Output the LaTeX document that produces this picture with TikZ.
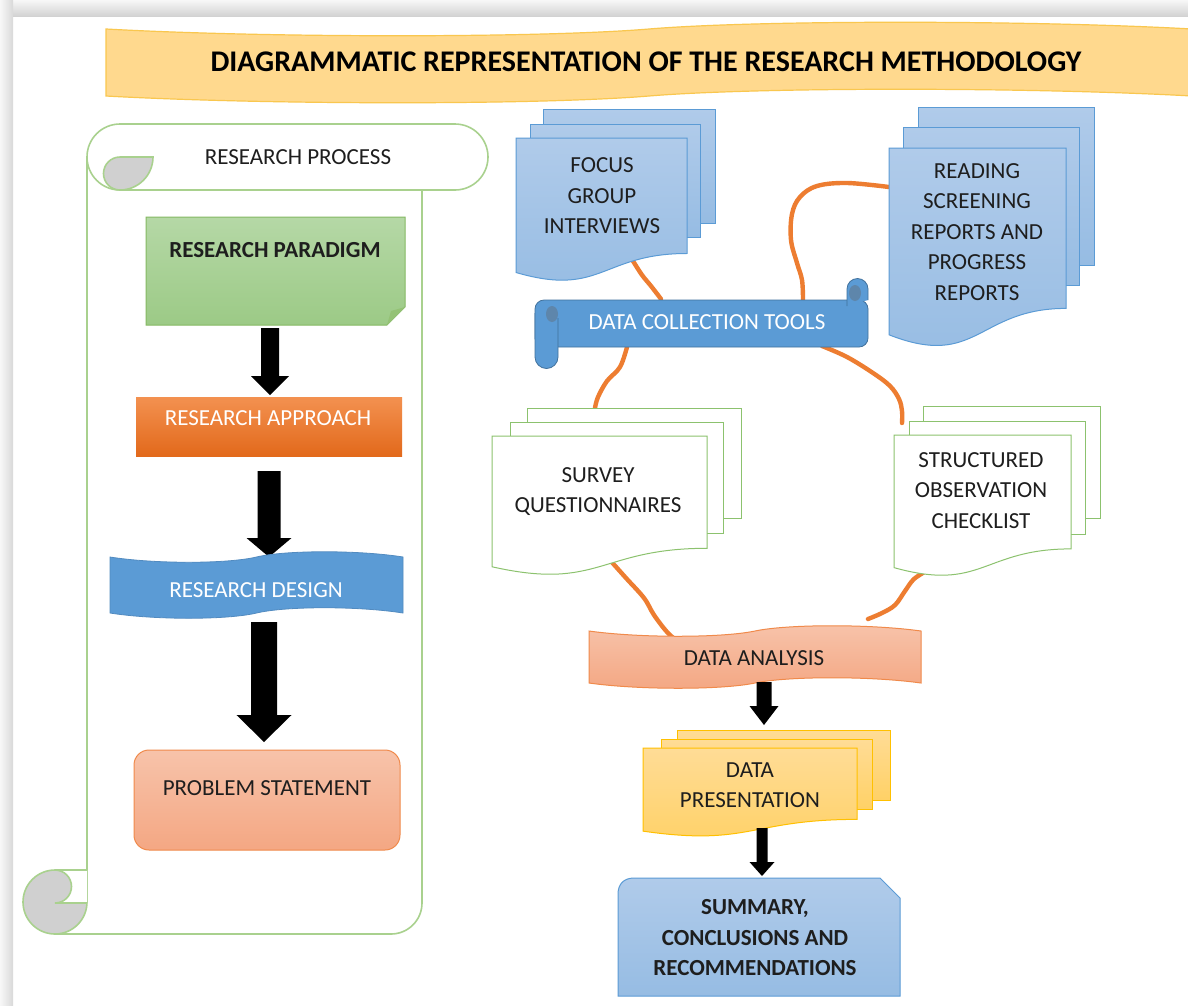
\documentclass[tikz,border=0pt]{standalone}
\usepackage{fontspec}
\setmainfont{Carlito}

\definecolor{scrollgreen}{HTML}{A9D18E}
\definecolor{leafdark}{HTML}{70AD47}
\definecolor{sheetgreen}{HTML}{8CC26E}
\definecolor{paratop}{HTML}{B5D8A6}
\definecolor{parabot}{HTML}{9CCA86}
\definecolor{apptop}{HTML}{F39150}
\definecolor{appbot}{HTML}{E2691B}
\definecolor{msblue}{HTML}{5B9BD5}
\definecolor{deepblue}{HTML}{41719C}
\definecolor{doctop}{HTML}{B0CBEA}
\definecolor{docbot}{HTML}{96BCE3}
\definecolor{salmtop}{HTML}{F7C3AA}
\definecolor{salmbot}{HTML}{F4A783}
\definecolor{salmedge}{HTML}{F08A4B}
\definecolor{wire}{HTML}{ED7D31}
\definecolor{goldtop}{HTML}{FFDC96}
\definecolor{goldbot}{HTML}{FFD166}
\definecolor{goldedge}{HTML}{FFC000}
\definecolor{bannerfill}{HTML}{FFD98E}
\definecolor{banneredge}{HTML}{F9C74F}
\definecolor{curlgray}{HTML}{D0D0D0}
\definecolor{ink}{HTML}{1E1E1E}

\tikzset{
  lbl/.style={font=\fontsize{23}{30.5}\selectfont, align=center, text=ink, inner sep=0pt},
  boldlbl/.style={lbl, font=\fontsize{23}{30.5}\selectfont\bfseries},
  whitelbl/.style={lbl, text=white},
  wirecurve/.style={draw=wire, line width=4.4pt, line cap=round, line join=round},
  scrollline/.style={draw=scrollgreen, line width=1.6pt},
  bluesheet/.style={top color=doctop, bottom color=docbot, draw=msblue, line width=1pt},
  greensheet/.style={fill=white, draw=sheetgreen, line width=1pt},
  goldsheet/.style={top color=goldtop, bottom color=goldbot, draw=goldedge, line width=1pt},
}

% wave band: style, x1, x2, top, bottom, amplitude
\newcommand{\wavepath}[6]{%
  \pgfmathsetmacro{\wvW}{#3-#2}%
  \pgfmathsetmacro{\wvM}{(#2+#3)/2}%
  \pgfmathsetmacro{\wvA}{#2+0.15*\wvW}%
  \pgfmathsetmacro{\wvB}{\wvM-0.1*\wvW}%
  \pgfmathsetmacro{\wvC}{\wvM+0.1*\wvW}%
  \pgfmathsetmacro{\wvD}{#3-0.15*\wvW}%
  \path[#1] (#2,#4) .. controls (\wvA,#4+#6) and (\wvB,#4+#6) .. (\wvM,#4)
     .. controls (\wvC,#4-#6) and (\wvD,#4-#6) .. (#3,#4) -- (#3,#5)
     .. controls (\wvD,#5-#6) and (\wvC,#5-#6) .. (\wvM,#5)
     .. controls (\wvB,#5+#6) and (\wvA,#5+#6) .. (#2,#5) -- cycle;}

% document sheet with wavy foot: style, x1, y1, x2, height
\newcommand{\docpage}[5]{%
  \pgfmathsetmacro{\dpR}{#3+0.802*#5}%
  \pgfmathsetmacro{\dpL}{#3+0.934*#5}%
  \pgfmathsetmacro{\dpC}{#3+1.1075*#5}%
  \pgfmathsetmacro{\dpM}{(#2+#4)/2}%
  \path[#1] (#2,#3) -- (#4,#3) -- (#4,\dpR) .. controls (\dpM,\dpR) and (\dpM,\dpC) .. (#2,\dpL) -- cycle;}

% solid down arrow: x centre, top, half shaft, half head, head start, tip
\newcommand{\blockarrow}[6]{%
  \fill[black] (#1-#3,#2) -- (#1+#3,#2) -- (#1+#3,#5) -- (#1+#4,#5) -- (#1,#6)
    -- (#1-#4,#5) -- (#1-#3,#5) -- cycle;}

\begin{document}
\begin{tikzpicture}[x=1pt,y=-1pt]
\useasboundingbox (0,0) rectangle (1188,1005);

% page and its shadow
\fill[white] (0,0) rectangle (1188,1005);
\fill[top color=gray!6, bottom color=gray!35] (0,0) rectangle (1188,16);
\fill[left color=gray!6, right color=gray!30] (0,0) rectangle (13,1005);

% title banner
\wavepath{fill=bannerfill, draw=banneredge, line width=1.2pt}{106}{1192}{29}{96}{9}
\node[font=\fontsize{30}{32}\selectfont\bfseries, text=black, inner sep=0pt] (title) at (646,62)
  {DIAGRAMMATIC REPRESENTATION OF THE RESEARCH METHODOLOGY};

% ---------- research process scroll ----------
\draw[scrollline] (87,157) -- (87,903);
\draw[scrollline] (422,190) -- (422,903) arc(0:90:31) -- (55,934);
\draw[scrollline, fill=white] (120,124) -- (455,124) arc(-90:90:33) -- (120,190) arc(90:270:33) -- cycle;
\draw[scrollline, fill=curlgray] (153,157) arc(0:90:33) arc(90:270:16.5) -- cycle;
\draw[scrollline, fill=curlgray] (55,902) circle (32);
\fill[white] (55,870) -- (87,870) -- (87,903) -- (55,903) arc(90:-90:16.5) -- cycle;
\draw[scrollline] (87,870) -- (55,870) arc(-90:90:16.5) -- (87,903);
\node[lbl] (process) at (298,157) {RESEARCH PROCESS};

% research paradigm (note with folded corner)
\path[top color=paratop, bottom color=parabot, draw=leafdark!85, line width=1pt]
  (146,217) -- (405,217) -- (405,307) -- (387,325) -- (146,325) -- cycle;
\fill[leafdark!75] (405,307) -- (391,311) -- (387,325) -- cycle;
\node[boldlbl] (paradigm) at (275,250) {RESEARCH PARADIGM};

\blockarrow{270}{328}{9}{19}{376}{395}

% research approach
\fill[top color=apptop, bottom color=appbot] (136,397) rectangle (402,456);
\node[whitelbl] (approach) at (268,418) {RESEARCH APPROACH};

\blockarrow{269}{471}{11.5}{22.5}{538}{557}

% research design
\wavepath{fill=msblue, draw=msblue!90!black, line width=0.8pt}{110}{403}{557}{613}{7}
\node[whitelbl] (design) at (256,590) {RESEARCH DESIGN};

\blockarrow{264}{622}{13}{27.5}{715}{742}

% problem statement
\path[top color=salmtop, bottom color=salmbot, draw=salmedge, line width=1pt, rounded corners=15]
  (134,750) rectangle (400,850);
\node[lbl] (problem) at (267,788) {PROBLEM STATEMENT};

% ---------- data tools ----------
% wire ends
\coordinate (fgi-out) at (633,261);
\coordinate (dct-nw) at (661,299);
\coordinate (rsr-out) at (889,187);
\coordinate (dct-ne) at (803,300);
\coordinate (dct-sw) at (627,347);
\coordinate (sq-in) at (595,408);
\coordinate (dct-se) at (822,346);
\coordinate (soc-in) at (902,423);
\coordinate (sq-out) at (609,559);
\coordinate (da-nw) at (676,640);
\coordinate (soc-out) at (928,570);
\coordinate (da-ne) at (868,619);

\draw[wirecurve] plot[smooth, tension=0.6] coordinates {(fgi-out) (642,275) (651,286) (dct-nw)};
\draw[wirecurve] plot[smooth, tension=0.6] coordinates {(rsr-out) (847,183) (817,186) (800,197) (792,214) (791,240) (797,263) (802,280) (dct-ne)};
\draw[wirecurve] plot[smooth, tension=0.6] coordinates {(dct-sw) (620,367) (607,381) (598,397) (sq-in)};
\draw[wirecurve] plot[smooth, tension=0.6] coordinates {(dct-se) (847,357) (873,373) (890,386) (899,399) (902,411) (soc-in)};
\draw[wirecurve] plot[smooth, tension=0.6] coordinates {(sq-out) (626,578) (644,598) (654,615) (667,632) (da-nw)};
\draw[wirecurve] plot[smooth, tension=0.6] coordinates {(soc-out) (914,579) (905,591) (895,605) (882,613) (da-ne)};

% focus group interviews
\path[bluesheet] (543,109) rectangle (715,223);
\path[bluesheet] (530,124) rectangle (700,237);
\docpage{bluesheet}{516}{138}{687}{144}
\node[lbl] (fgi) at (602,196) {FOCUS\\GROUP\\INTERVIEWS};

% reading screening and progress reports
\path[bluesheet] (918,107) rectangle (1094,265);
\path[bluesheet] (903,127) rectangle (1079,285);
\docpage{bluesheet}{889}{148}{1066}{200}
\node[lbl] (rsr) at (977,232) {READING\\SCREENING\\REPORTS AND\\PROGRESS\\REPORTS};

% data collection tools (horizontal scroll)
\path[fill=msblue, draw=deepblue, line width=0.8pt, rounded corners=9] (535,300) rectangle (868,347);
\path[fill=msblue, draw=deepblue, line width=0.8pt] (535,313) -- (535,357) arc(180:0:11.5) -- (558,318);
\fill[deepblue!85] (552,314) ellipse (6 and 8);
\path[fill=msblue, draw=deepblue, line width=0.8pt] (847,306) -- (847,289) arc(180:360:10.5) -- (868,300);
\fill[deepblue!85] (855,293) ellipse (6 and 8);
\node[whitelbl] (dct) at (707,322) {DATA COLLECTION TOOLS};

% survey questionnaires
\path[greensheet] (527,408) rectangle (741,518);
\path[greensheet] (510,422) rectangle (723,533);
\docpage{greensheet}{492}{436}{707}{140}
\node[lbl] (sq) at (598,491.5) {SURVEY\\QUESTIONNAIRES};

% structured observation checklist
\path[greensheet] (923,406) rectangle (1100,518);
\path[greensheet] (909,421) rectangle (1085,534);
\docpage{greensheet}{894}{435}{1071}{142}
\node[lbl] (soc) at (981,490.5) {STRUCTURED\\OBSERVATION\\CHECKLIST};

% data analysis
\wavepath{top color=salmtop, bottom color=salmbot, draw=salmedge, line width=1pt}{589}{921}{631}{683}{7}
\node[lbl] (analysis) at (754,658) {DATA ANALYSIS};

\blockarrow{764}{682}{7.5}{14.5}{706}{725}

% data presentation
\path[goldsheet] (677,730) rectangle (890,800);
\path[goldsheet] (661,739) rectangle (872,809);
\docpage{goldsheet}{643}{748}{857}{89}
\node[lbl] (presentation) at (750,785) {DATA\\PRESENTATION};

\blockarrow{762}{828}{5.5}{12.5}{862}{876}

% summary
\path[top color=doctop, bottom color=docbot, draw=msblue, line width=1pt]
  (618,996) -- (618,894) .. controls (618,884) and (624,878) .. (634,878)
  -- (880,878) -- (900,898) -- (900,996) -- cycle;
\node[boldlbl] (summary) at (755,938) {SUMMARY,\\CONCLUSIONS AND\\RECOMMENDATIONS};

\end{tikzpicture}
\end{document}
